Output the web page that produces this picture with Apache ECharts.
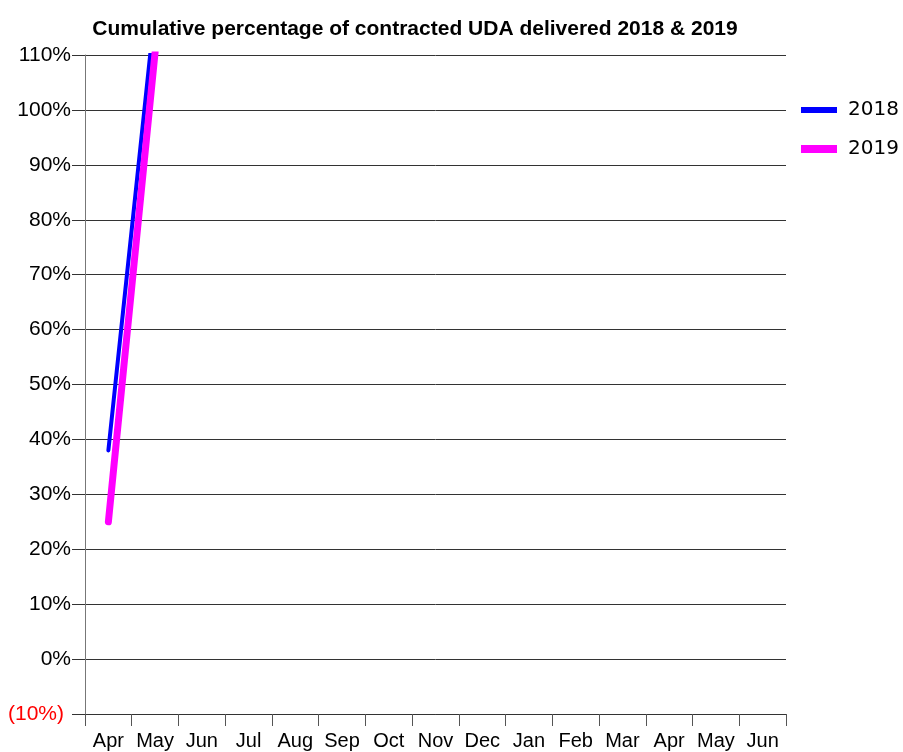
<!DOCTYPE html>
<html><head><meta charset="utf-8">
<script src="https://cdn.jsdelivr.net/npm/echarts@6/dist/echarts.min.js"></script>
<style>html,body{margin:0;padding:0;background:#fff}#c{width:903px;height:752px}</style>
</head><body><div id="c"></div>
<script>
const categories = ['Apr','May','Jun','Jul','Aug','Sep','Oct','Nov','Dec','Jan','Feb','Mar','Apr','May','Jun'];
const series2018 = [38, 118.5];
const series2019 = [25, 110.5];
const chart = echarts.init(document.getElementById('c'));
chart.setOption({
  animation: false,
  title: {
    text: 'Cumulative percentage of contracted UDA delivered 2018 & 2019',
    left: 410, top: 14, textAlign: 'center',
    textStyle: {fontFamily: 'Liberation Sans', fontWeight: 'bold', fontSize: 21, color: '#000'}
  },
  legend: [{
    data: [{name: '2018', icon: 'rect'}],
    orient: 'vertical', left: 796, top: 95, itemWidth: 36, itemHeight: 6,
    textStyle: {fontFamily: 'DejaVu Sans', fontSize: 20, color: '#000', padding: [0,0,0,6]}
  },{
    data: [{name: '2019', icon: 'rect'}],
    orient: 'vertical', left: 796, top: 134, itemWidth: 36, itemHeight: 8,
    textStyle: {fontFamily: 'DejaVu Sans', fontSize: 20, color: '#000', padding: [0,0,0,6]}
  }],
  grid: {left: 85, right: 117, top: 55, bottom: 38, containLabel: false},
  xAxis: {
    type: 'category', data: categories, boundaryGap: true,
    axisLine: {onZero: false, lineStyle: {color: '#333', width: 1}},
    axisTick: {show: true, length: 12, lineStyle: {color: '#555'}},
    axisLabel: {fontFamily: 'Liberation Sans', fontSize: 20, color: '#000', margin: 17, interval: 0}
  },
  yAxis: {
    type: 'value', min: -10, max: 110, interval: 10,
    axisLine: {show: true, lineStyle: {color: '#777'}},
    axisTick: {show: true, length: 13, lineStyle: {color: '#333'}},
    splitLine: {lineStyle: {color: '#333', width: 1}},
    axisLabel: {
      fontFamily: 'Liberation Sans', fontSize: 21, margin: 14, color: '#000',
      formatter: v => v < 0 ? '{neg|(' + Math.abs(v) + '%)}' : v + '%',
      rich: {neg: {color: '#ff0000', fontFamily: 'Liberation Sans', fontSize: 21, padding: [0, 7, 0, 0]}}
    }
  },
  series: [
    {name: '2018', type: 'line', data: series2018, symbol: 'none', color: '#0000ff',
     lineStyle: {width: 4, color: '#0000ff', cap: 'round'}, itemStyle: {color: '#0000ff'}},
    {name: '2019', type: 'line', data: series2019, symbol: 'none', color: '#ff00ff',
     lineStyle: {width: 7, color: '#ff00ff', cap: 'round'}, itemStyle: {color: '#ff00ff'}}
  ]
});
</script></body></html>
